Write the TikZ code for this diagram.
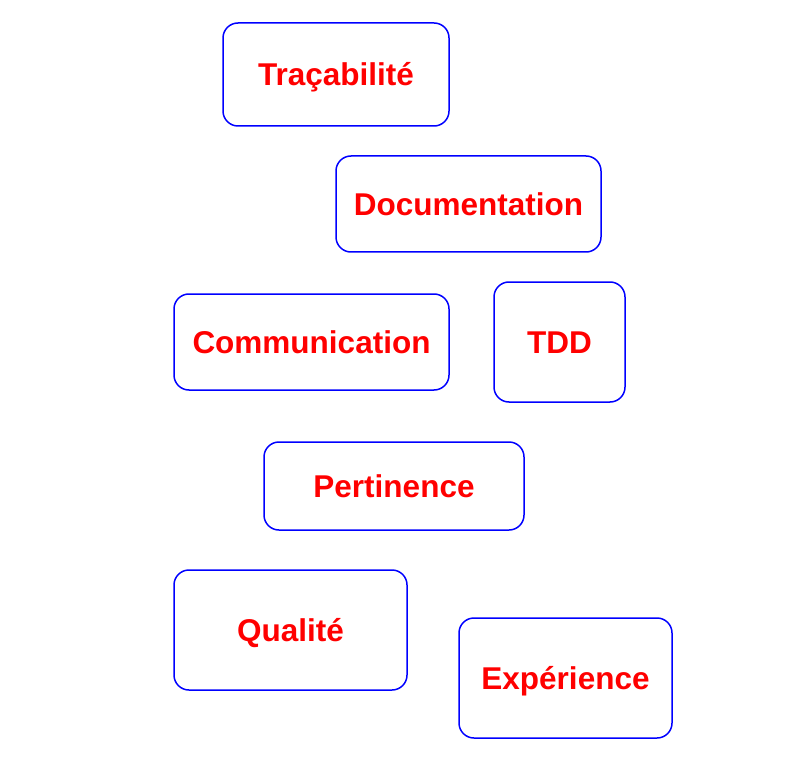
\documentclass[tikz,border=0pt]{standalone}
\usepackage{fontspec}
\setmainfont{Liberation Sans}
\usepackage{tikz}

\def\Cell#1#2#3#4#5{\node [cell,minimum width=#3pt,minimum height=#4pt] (#1) at #2 {#5};}

\begin{document}
\begin{tikzpicture}[x=1pt,y=-1pt,
  cell/.style={draw=blue,line width=1.5pt,rounded corners=15pt,inner sep=0pt,
    text height=23pt,text depth=0pt,
    text=red,font=\fontsize{31.5}{36}\selectfont\bfseries}]
  \useasboundingbox (0,0) rectangle (789,759);
  \Cell{trac}{(336,74.5)}{226}{103}{Traçabilité}
  \Cell{doc}{(468.5,204)}{265}{96}{Documentation}
  \Cell{comm}{(311.5,342)}{275}{96}{Communication}
  \Cell{tdd}{(559.5,342)}{131}{120}{TDD}
  \Cell{pert}{(394,486)}{260}{88}{Pertinence}
  \Cell{qual}{(290.5,630)}{233}{120}{Qualité}
  \Cell{exp}{(565.5,678)}{213}{120}{Expérience}
\end{tikzpicture}
\end{document}
